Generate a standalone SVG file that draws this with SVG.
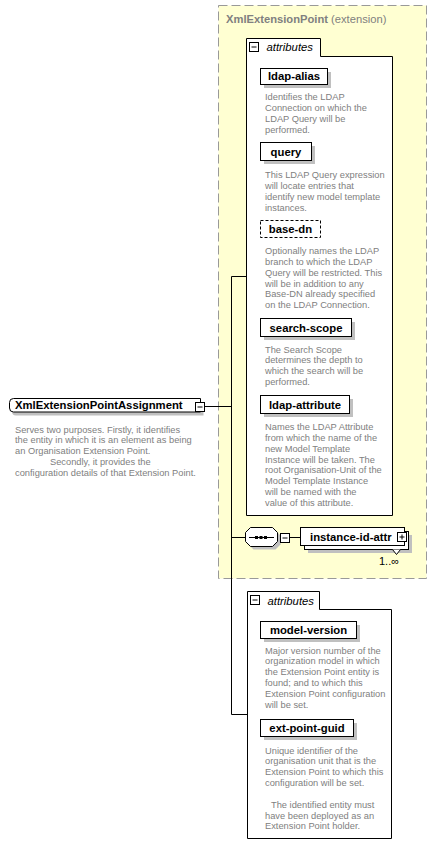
<svg xmlns="http://www.w3.org/2000/svg" width="437" height="856" viewBox="0 0 437 856">
<style>
.lbl{font-family:"Liberation Sans",Arial,sans-serif;font-weight:bold;font-size:11.3px;fill:#000}
.desc{font-family:"Liberation Sans",Arial,sans-serif;font-size:9.3px;fill:#808080}
.box{fill:#fff;stroke:#000;stroke-width:1}
.shadow{fill:#c0c0c0}
.ln{stroke:#000;stroke-width:1;fill:none}
.ital{font-family:"Liberation Sans",Arial,sans-serif;font-style:italic;font-size:11.3px;fill:#000}
</style>
<rect width="437" height="856" fill="#fff"/>

<g id="ext">
<rect x="218.5" y="5.5" width="208" height="573" fill="#ffffd2" stroke="#999" stroke-dasharray="9,4"/>
<text x="226" y="22.5" style="font-family:'Liberation Sans',Arial,sans-serif;font-size:11.2px;fill:#808080"><tspan font-weight="bold">XmlExtensionPoint</tspan> (extension)</text>
</g>

<g id="connectors">
<path class="ln" d="M204.5,406.5H231.5M231.5,276.5V714.5M231.5,276.5H246.5M231.5,537.5H245.5M231.5,714.5H247.5M289.5,537.5H300.5"/>
</g>

<g id="attrs1">
<path class="box" d="M246.5,515.5V38.5H320.5V56.5H392.5V515.5Z"/>
<rect class="box" x="249.5" y="42.5" width="9" height="9"/>
<path class="ln" d="M251.5,47H256.5"/>
<text class="ital" x="266.5" y="51">attributes</text>
</g>

<g id="ldap-alias">
<rect class="shadow" x="264" y="72" width="67" height="16"/>
<rect class="box" x="260.5" y="68.5" width="67" height="16"/>
<text class="lbl" x="294" y="80" text-anchor="middle">ldap-alias</text>
<text class="desc" y="100"><tspan x="265">Identifies the LDAP</tspan><tspan x="265" dy="10.85">Connection on which the</tspan><tspan x="265" dy="10.85">LDAP Query will be</tspan><tspan x="265" dy="10.85">performed.</tspan></text>
</g>

<g id="query">
<rect class="shadow" x="264" y="146" width="51" height="18"/>
<rect class="box" x="260.5" y="142.5" width="51" height="18"/>
<text class="lbl" x="286" y="155.5" text-anchor="middle">query</text>
<text class="desc" y="178"><tspan x="265">This LDAP Query expression</tspan><tspan x="265" dy="10.85">will locate entries that</tspan><tspan x="265" dy="10.85">identify new model template</tspan><tspan x="265" dy="10.85">instances.</tspan></text>
</g>

<g id="base-dn">
<rect class="box" x="260.5" y="220.5" width="60" height="17" stroke-dasharray="3,2"/>
<text class="lbl" x="290.5" y="233" text-anchor="middle">base-dn</text>
<text class="desc" y="254"><tspan x="265">Optionally names the LDAP</tspan><tspan x="265" dy="10.85">branch to which the LDAP</tspan><tspan x="265" dy="10.85">Query will be restricted. This</tspan><tspan x="265" dy="10.85">will be in addition to any</tspan><tspan x="265" dy="10.85">Base-DN already specified</tspan><tspan x="265" dy="10.85">on the LDAP Connection.</tspan></text>
</g>

<g id="search-scope">
<rect class="shadow" x="264" y="322" width="91" height="18"/>
<rect class="box" x="260.5" y="318.5" width="91" height="18"/>
<text class="lbl" x="306" y="331.5" text-anchor="middle">search-scope</text>
<text class="desc" y="352.5"><tspan x="265">The Search Scope</tspan><tspan x="265" dy="10.85">determines the depth to</tspan><tspan x="265" dy="10.85">which the search will be</tspan><tspan x="265" dy="10.85">performed.</tspan></text>
</g>

<g id="ldap-attribute">
<rect class="shadow" x="264" y="399" width="89" height="18"/>
<rect class="box" x="260.5" y="395.5" width="89" height="18"/>
<text class="lbl" x="305" y="408.5" text-anchor="middle">ldap-attribute</text>
<text class="desc" y="430"><tspan x="265">Names the LDAP Attribute</tspan><tspan x="265" dy="10.85">from which the name of the</tspan><tspan x="265" dy="10.85">new Model Template</tspan><tspan x="265" dy="10.85">Instance will be taken. The</tspan><tspan x="265" dy="10.85">root Organisation-Unit of the</tspan><tspan x="265" dy="10.85">Model Template Instance</tspan><tspan x="265" dy="10.85">will be named with the</tspan><tspan x="265" dy="10.85">value of this attribute.</tspan></text>
</g>

<g id="main">
<path class="shadow" d="M16,402H203.5V415.5H16Q12,415.5 12,411.5V406Q12,402 16,402Z"/>
<path class="box" d="M13.5,398.5H200.5V412H13.5Q9.5,412 9.5,408V402.5Q9.5,398.5 13.5,398.5Z"/>
<text class="lbl" x="15" y="408.5">XmlExtensionPointAssignment</text>
<rect class="box" x="195.5" y="402.5" width="9" height="9"/>
<path class="ln" d="M197.5,407H202.5"/>
<text class="desc" y="432.5"><tspan x="15">Serves two purposes. Firstly, it identifies</tspan><tspan x="15" dy="10.85">the entity in which it is an element as being</tspan><tspan x="15" dy="10.85">an Organisation Extension Point.</tspan><tspan x="50" dy="10.85">Secondly, it provides the</tspan><tspan x="15" dy="10.85">configuration details of that Extension Point.</tspan></text>
</g>

<g id="sequence">
<polygon class="shadow" points="253.5,530.5 275.5,530.5 280.5,535.5 280.5,544.5 275.5,549.5 253.5,549.5 248.5,544.5 248.5,535.5"/>
<polygon class="box" points="250.5,527.5 272.5,527.5 277.5,532.5 277.5,541.5 272.5,546.5 250.5,546.5 245.5,541.5 245.5,532.5"/>
<path class="ln" d="M249,537.5H274"/>
<rect x="255" y="536" width="3" height="3" fill="#000"/>
<rect x="259.5" y="536" width="3" height="3" fill="#000"/>
<rect x="264" y="536" width="3" height="3" fill="#000"/>
<rect class="box" x="280.5" y="533.5" width="9" height="9"/>
<path class="ln" d="M282.5,538H287.5"/>
</g>

<g id="instance-id-attr">
<rect class="shadow" x="308" y="535" width="104" height="18"/>
<rect class="box" x="304.5" y="531.5" width="104" height="18"/>
<rect class="box" x="300.5" y="527.5" width="104" height="18"/>
<text class="lbl" x="310" y="541">instance-id-attr</text>
<rect class="box" x="397.5" y="532.5" width="9" height="9"/>
<path class="ln" d="M399.5,537H404.5M402,534.5V539.5"/>
<path class="box" d="M392.5,549.5L396.5,554.5L400.5,549.5"/>
<text x="379" y="565" style="font-family:'Liberation Sans',Arial,sans-serif;font-size:11px;fill:#000">1..∞</text>
</g>

<g id="attrs2">
<path class="box" d="M247.5,838.5V591.5H319.5V609.5H391.5V838.5Z"/>
<rect class="box" x="250.5" y="595.5" width="9" height="9"/>
<path class="ln" d="M252.5,600H257.5"/>
<text class="ital" x="267.5" y="604.5">attributes</text>
</g>

<g id="model-version">
<rect class="shadow" x="264" y="625" width="96" height="17"/>
<rect class="box" x="260.5" y="621.5" width="96" height="17"/>
<text class="lbl" x="308.5" y="634" text-anchor="middle">model-version</text>
<text class="desc" y="653.5"><tspan x="265">Major version number of the</tspan><tspan x="265" dy="10.85">organization model in which</tspan><tspan x="265" dy="10.85">the Extension Point entity is</tspan><tspan x="265" dy="10.85">found; and to which this</tspan><tspan x="265" dy="10.85">Extension Point configuration</tspan><tspan x="265" dy="10.85">will be set.</tspan></text>
</g>

<g id="ext-point-guid">
<rect class="shadow" x="264" y="723" width="93" height="17"/>
<rect class="box" x="260.5" y="719.5" width="93" height="17"/>
<text class="lbl" x="307" y="732" text-anchor="middle">ext-point-guid</text>
<text class="desc" y="753.5"><tspan x="265">Unique identifier of the</tspan><tspan x="265" dy="10.85">organisation unit that is the</tspan><tspan x="265" dy="10.85">Extension Point to which this</tspan><tspan x="265" dy="10.85">configuration will be set.</tspan><tspan x="271" dy="21.7">The identified entity must</tspan><tspan x="265" dy="10.85">have been deployed as an</tspan><tspan x="265" dy="10.85">Extension Point holder.</tspan></text>
</g>
</svg>
